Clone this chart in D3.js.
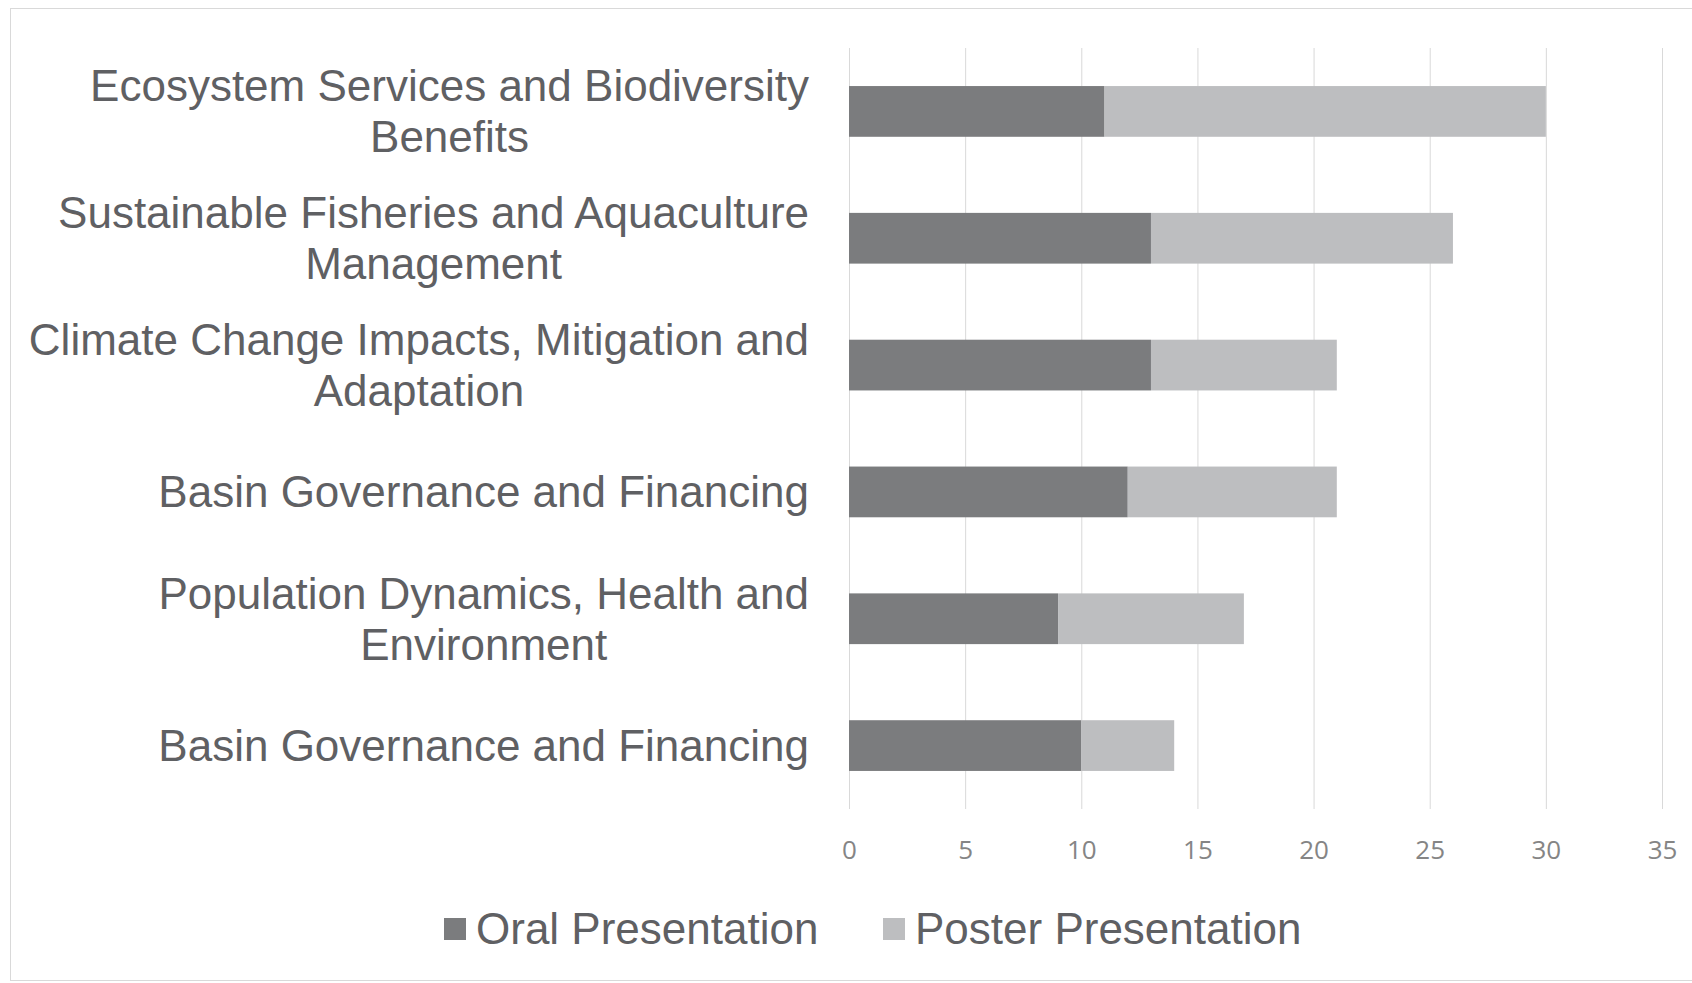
<!DOCTYPE html>
<html>
<head>
<meta charset="utf-8">
<script src="https://cdn.jsdelivr.net/npm/d3@7"></script>
<style>
  body { margin: 0; background: #fff; }
  svg { display: block; }
</style>
</head>
<body>
<svg id="chart"></svg>
<script>
// topics, top to bottom; "\n" marks the line break in the label
const categories = [
    "Ecosystem Services and Biodiversity\nBenefits",
    "Sustainable Fisheries and Aquaculture\nManagement",
    "Climate Change Impacts, Mitigation and\nAdaptation",
    "Basin Governance and Financing",
    "Population Dynamics, Health and\nEnvironment",
    "Basin Governance and Financing "
];
const oral = [11, 13, 13, 12, 9, 10];
const poster = [19, 13, 8, 9, 8, 4];
const seriesNames = ["Oral Presentation", "Poster Presentation"];
const seriesColors = ["#7b7c7e", "#bdbec0"];
const xTicks = [0, 5, 10, 15, 20, 25, 30, 35];

const W = 1692, H = 983;
let svg = d3.select("#chart").attr("width", W).attr("height", H);

// outer frame
svg.append("rect")
    .attr("x", 10.5).attr("y", 8.5)
    .attr("width", W).attr("height", 972)
    .attr("fill", "none")
    .attr("stroke", "#d9d9d9");

let margin = {top: 48, left: 849, right: W - 1662, bottom: H - 809};
let width = W - margin.left - margin.right;
let height = H - margin.top - margin.bottom;
let g = svg.append("g").attr("transform", "translate(" + margin.left + "," + margin.top + ")");

let x = d3.scaleLinear().domain([0, 35]).range([0, width]);
let y = d3.scaleBand().domain(categories).range([0, height]).paddingInner(0.6).paddingOuter(0.3);

// gridlines
g.append("g").selectAll("line")
    .data(xTicks)
    .enter().append("line")
        .attr("x1", d => x(d) + 0.5).attr("x2", d => x(d) + 0.5)
        .attr("y1", 0).attr("y2", height)
        .attr("stroke", "#d9d9d9")
        .attr("stroke-width", 1);

// x axis labels
let xAxisView = g.append("g").attr("transform", "translate(0," + height + ")")
    .call(d3.axisBottom(x).tickValues(xTicks).tickSize(0).tickPadding(32));
xAxisView.select(".domain").remove();
xAxisView.selectAll("text")
    .attr("fill", "#858585")
    .style("font-family", "'Liberation Sans Narrow', 'Open Sans', sans-serif")
    .style("font-size", "26px");

// stacked bars
let stacked = categories.map((c, i) => ({cat: c, vals: [oral[i], poster[i]]}));
let barGroups = g.selectAll(".bar")
    .data(stacked)
    .enter().append("g").classed("bar", true);
barGroups.selectAll("rect")
    .data(d => {
        let acc = 0;
        return d.vals.map((v, k) => { let s = acc; acc += v; return {cat: d.cat, x0: s, x1: acc, k: k}; });
    })
    .enter().append("rect")
        .attr("x", d => x(d.x0))
        .attr("width", d => x(d.x1) - x(d.x0))
        .attr("y", d => y(d.cat))
        .attr("height", y.bandwidth())
        .attr("fill", d => seriesColors[d.k]);

// category labels: block right-aligned at 809, lines centred within block
const labelFont = "'Liberation Sans', Arial, sans-serif";
const labelRight = 809 - margin.left;
const lineGap = 51;
categories.forEach(c => {
    let lines = c.trim().split("\n");
    let cy = y(c) + y.bandwidth() / 2;
    let t = g.append("g");
    let texts = lines.map((ln, i) => t.append("text")
        .attr("y", cy + (i - (lines.length - 1) / 2) * lineGap)
        .attr("dy", "0.35em")
        .attr("text-anchor", "middle")
        .attr("fill", "#5f6063")
        .style("font-family", labelFont)
        .style("font-size", "44px")
        .text(ln));
    let maxW = d3.max(texts, s => s.node().getComputedTextLength());
    texts.forEach(s => s.attr("x", labelRight - maxW / 2));
});

// legend
let legend = svg.append("g").attr("transform", "translate(0,929)");
let legendX = [444, 883];
seriesNames.forEach((name, i) => {
    legend.append("rect")
        .attr("x", legendX[i]).attr("y", -11)
        .attr("width", 22).attr("height", 22)
        .attr("fill", seriesColors[i]);
    legend.append("text")
        .attr("x", legendX[i] + 32)
        .attr("dy", "0.35em")
        .attr("fill", "#5f6063")
        .style("font-family", labelFont)
        .style("font-size", "44px")
        .text(name);
});
</script>
</body>
</html>
